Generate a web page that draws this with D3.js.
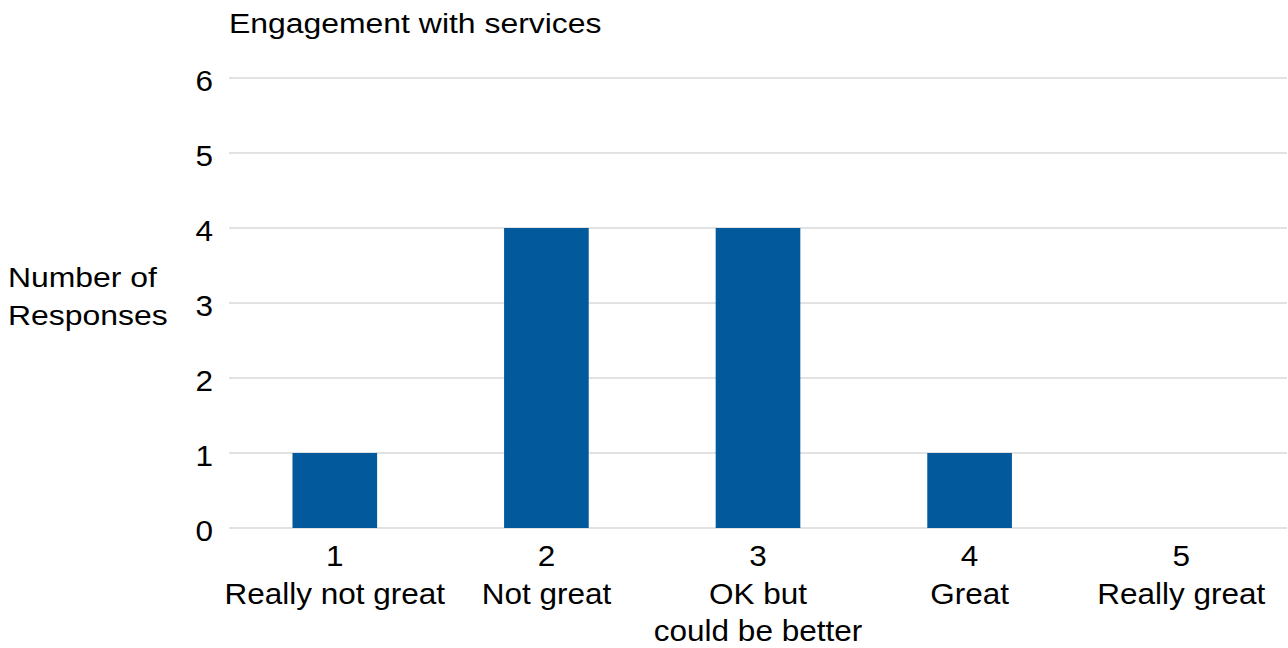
<!DOCTYPE html>
<html>
<head>
<meta charset="utf-8">
<script src="https://cdn.jsdelivr.net/npm/d3@7"></script>
<style>
  html, body { margin: 0; padding: 0; background: #fff; }
  svg text { font-family: "Liberation Sans", Arial, sans-serif; fill: #000; }
</style>
</head>
<body>
<svg id="chart" width="1288" height="648"></svg>
<script>
// Survey results: engagement with services
const scoreLabels = ["1", "2", "3", "4", "5"];
const categoryLabels = [["Really not great"], ["Not great"], ["OK but", "could be better"], ["Great"], ["Really great"]];
const responses = [1, 4, 4, 1, 0];
const yTicks = [0, 1, 2, 3, 4, 5, 6];
const chartTitle = "Engagement with services";
const yTitle = ["Number of", "Responses"];

const svg = d3.select("#chart");
const margin = { left: 229, right: 1, top: 78, bottom: 120 };
const W = 1288, H = 648;

// labels are set slightly wide
const labelStretch = 1.05;
const titleStretch = 1.14;

const x = d3.scaleBand()
  .domain(scoreLabels)
  .range([margin.left, W - margin.right])
  .paddingInner(0.6)
  .paddingOuter(0.3);

const y = d3.scaleLinear()
  .domain([0, 6])
  .range([H - margin.bottom, margin.top]);

// horizontally stretched text placed at (px, py)
function stretchedText(parent, px, py, str, size, sx, anchor) {
  return parent.append("text")
    .attr("transform", `translate(${px},${py}) scale(${sx},1)`)
    .attr("font-size", size)
    .attr("text-anchor", anchor || "start")
    .text(str);
}

// gridlines
svg.append("g")
  .selectAll("line")
  .data(yTicks)
  .join("line")
  .attr("x1", margin.left)
  .attr("x2", W - margin.right)
  .attr("y1", d => y(d))
  .attr("y2", d => y(d))
  .attr("stroke", "#d9d9d9")
  .attr("stroke-width", 1.5);

// y tick labels
const yLab = svg.append("g");
yTicks.forEach(t => stretchedText(yLab, 213, y(t) + 13, String(t), 30, labelStretch, "end"));

// bars
svg.append("g")
  .selectAll("rect")
  .data(responses)
  .join("rect")
  .attr("x", (d, i) => x(scoreLabels[i]))
  .attr("width", x.bandwidth())
  .attr("y", d => y(d))
  .attr("height", d => y(0) - y(d))
  .attr("fill", "#02599c");

// category labels: score number then description lines
const lineBaselines = [566, 604, 641];
const xLab = svg.append("g");
scoreLabels.forEach((s, i) => {
  const cx = x(s) + x.bandwidth() / 2;
  [s].concat(categoryLabels[i]).forEach((ln, j) => {
    stretchedText(xLab, cx, lineBaselines[j], ln, 30, labelStretch, "middle");
  });
});

// title
stretchedText(svg, 229, 33, chartTitle, 28, titleStretch, "start");

// y axis title
yTitle.forEach((ln, i) => stretchedText(svg, 8, 287 + i * 38, ln, 28, titleStretch, "start"));
</script>
</body>
</html>
